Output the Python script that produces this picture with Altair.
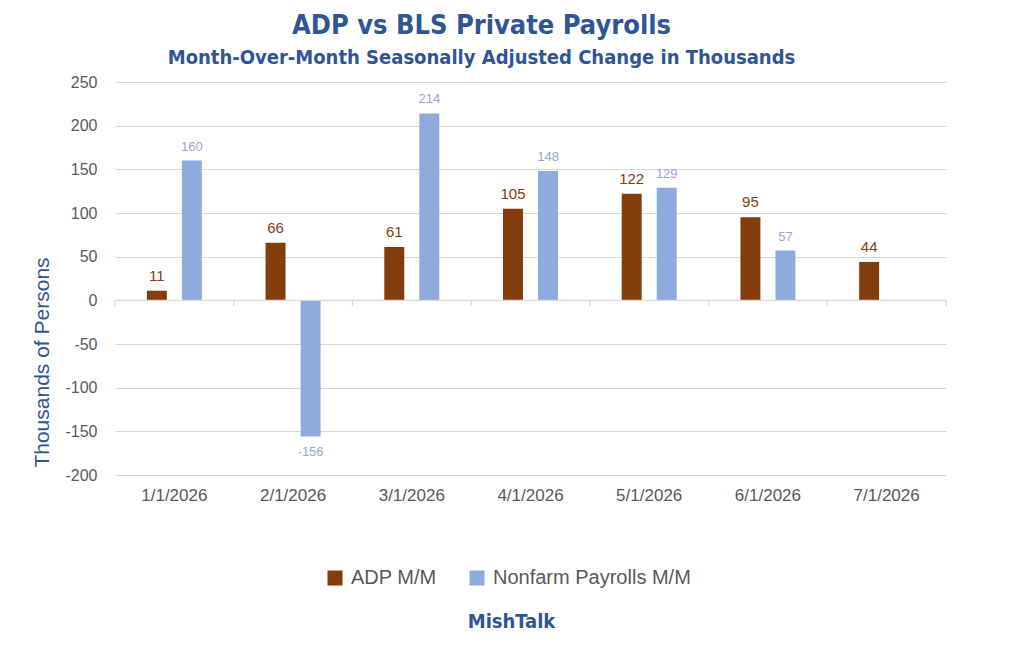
import pandas as pd
import altair as alt

months = ["1/1/2026", "2/1/2026", "3/1/2026", "4/1/2026", "5/1/2026", "6/1/2026", "7/1/2026"]
adp = [11, 66, 61, 105, 122, 95, 44]
nfp = [160, -156, 214, 148, 129, 57, None]
series = ["ADP M/M", "Nonfarm Payrolls M/M"]

rows = []
for m, a, n in zip(months, adp, nfp):
    rows.append({"Month": m, "Series": series[0], "Value": a})
    if n is not None:
        rows.append({"Month": m, "Series": series[1], "Value": n})
df = pd.DataFrame(rows)
df["Label"] = df["Value"].astype(int).astype(str)

BROWN = "#843C0C"
BLUE = "#8FAADC"
TITLE_BLUE = "#2F5597"
GRAY = "#595959"
HEAD_FONT = "DejaVu Sans Condensed, Liberation Sans, sans-serif"
W, H = 831, 393

x = alt.X("Month:N", sort=months,
          scale=alt.Scale(paddingInner=0, paddingOuter=0),
          axis=alt.Axis(title="MishTalk", labelAngle=0, labelFontSize=17, labelColor=GRAY,
                        labelPadding=12, domain=False, ticks=False, labelFont="Liberation Sans",
                        bandPosition=0.5,
                        titleFontSize=20, titleColor=TITLE_BLUE, titleFont=HEAD_FONT,
                        titleFontWeight="bold", titleX=396, titleY=146, titleBaseline="middle"))
xoff = alt.XOffset("Series:N", sort=series,
                   scale=alt.Scale(paddingInner=0.43, paddingOuter=0.91))
y = alt.Y("Value:Q", scale=alt.Scale(domain=[-200, 250], nice=False),
          axis=alt.Axis(title="Thousands of Persons", values=list(range(-200, 251, 50)),
                        labelExpr="'' + datum.value",
                        labelFontSize=16, labelColor=GRAY, labelPadding=18, labelFont="Liberation Sans",
                        domain=False, ticks=False, gridColor="#D9D9D9", gridWidth=1.2,
                        titleFontSize=21, titleColor=TITLE_BLUE, titleFontWeight="normal",
                        titleFont="Liberation Sans", titlePadding=12, titleY=280))
color = alt.Color("Series:N", sort=series,
                  scale=alt.Scale(domain=series, range=[BROWN, BLUE]),
                  legend=alt.Legend(title=None, orient="none", legendX=210, legendY=486,
                                    direction="horizontal", symbolType="square", symbolSize=225,
                                    symbolStrokeWidth=0, labelFontSize=20, labelColor=GRAY,
                                    labelFont="Liberation Sans", columnPadding=30, labelOffset=6,
                                    labelLimit=400))

base = alt.Chart(df)
bars = base.mark_bar().encode(x=x, xOffset=xoff, y=y, color=color)

adp_lbl = base.transform_filter(alt.datum.Series == series[0]).mark_text(
    baseline="bottom", dy=-7, fontSize=15, color=BROWN, font="Liberation Sans"
).encode(x=x, xOffset=xoff, y="Value:Q", text="Label:N")
nfp_pos = base.transform_filter((alt.datum.Series == series[1]) & (alt.datum.Value >= 0)).mark_text(
    baseline="bottom", dy=-7, fontSize=13, color=BLUE, font="Liberation Sans"
).encode(x=x, xOffset=xoff, y="Value:Q", text="Label:N")
nfp_neg = base.transform_filter((alt.datum.Series == series[1]) & (alt.datum.Value < 0)).mark_text(
    baseline="top", dy=9, fontSize=13, color=BLUE, font="Liberation Sans"
).encode(x=x, xOffset=xoff, y="Value:Q", text="Label:N")

zero = alt.Chart(pd.DataFrame({"z": [0]})).mark_rule(color="#D9D9D9", strokeWidth=1.2).encode(
    y=alt.datum(0), x=alt.value(0), x2=alt.value(W))
ticks = alt.Chart(pd.DataFrame({"Month": months})).mark_rule(
    color="#D9D9D9", strokeWidth=1.2, y2Offset=6
).encode(x=alt.X("Month:N", sort=months, bandPosition=0), y=alt.datum(0), y2=alt.datum(0))
end_tick = alt.Chart(pd.DataFrame({"Month": months[-1:]})).mark_rule(
    color="#D9D9D9", strokeWidth=1.2, y2Offset=6
).encode(x=alt.X("Month:N", sort=months, bandPosition=1), y=alt.datum(0), y2=alt.datum(0))

chart = alt.layer(bars, zero, ticks, end_tick, adp_lbl, nfp_pos, nfp_neg).properties(
    width=W, height=H,
    autosize=alt.AutoSizeParams(type="none"),
    padding={"left": 107, "top": 74, "right": 60, "bottom": 170},
    title=alt.Title(
        "ADP vs BLS Private Payrolls",
        subtitle="Month-Over-Month Seasonally Adjusted Change in Thousands",
        font=HEAD_FONT, fontSize=27, fontWeight="bold", color=TITLE_BLUE,
        subtitleFont=HEAD_FONT, subtitleFontSize=20,
        subtitleFontWeight="bold", subtitleColor=TITLE_BLUE, subtitlePadding=8,
        anchor="middle", dx=-49, offset=5,
    ),
).configure_view(stroke=None)

chart.save("out.html", embed_options={"renderer": "svg", "actions": False})
